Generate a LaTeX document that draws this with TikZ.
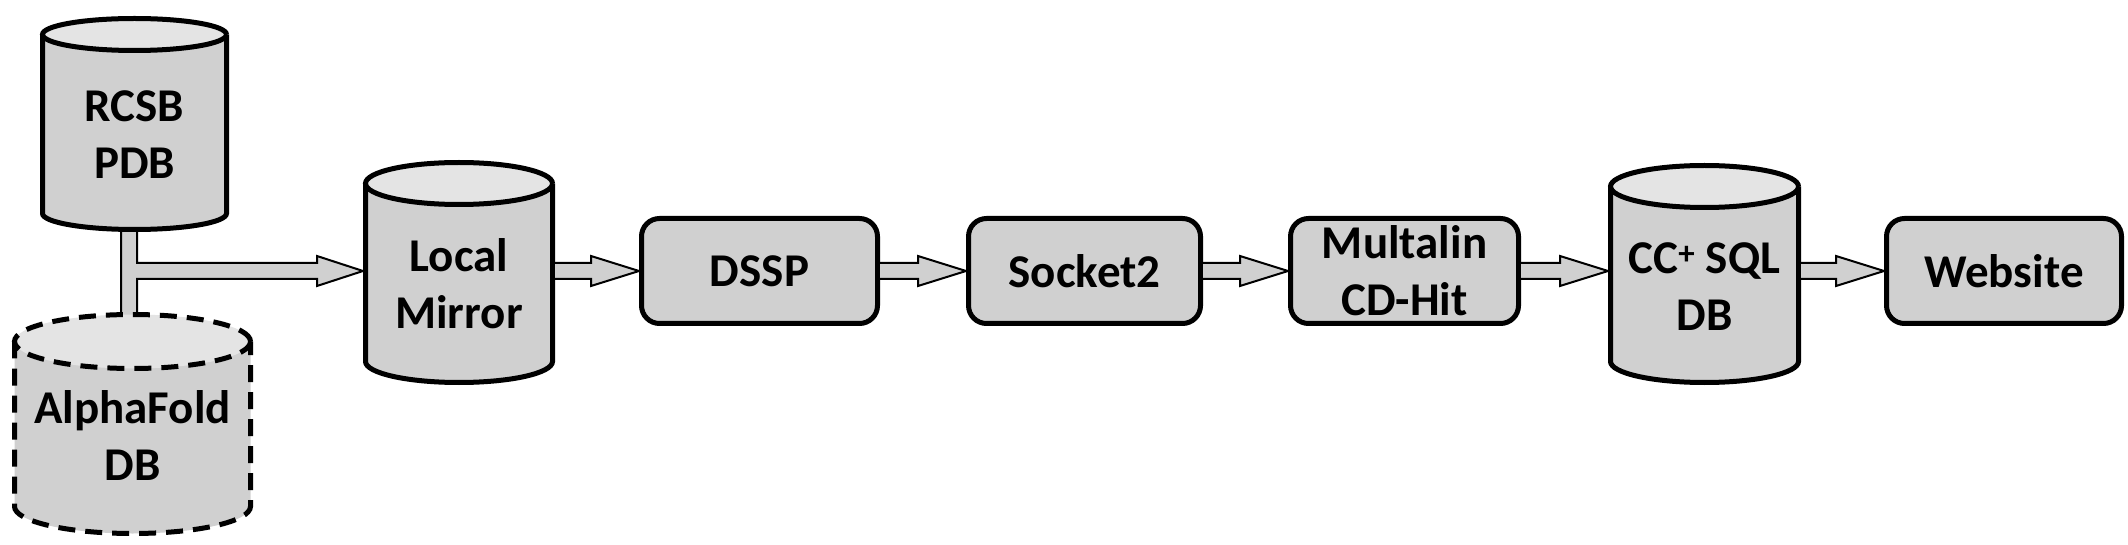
\documentclass[tikz,border=0pt]{standalone}
\usepackage{fontspec}
\setmainfont{Carlito}
\usetikzlibrary{calc}
\pgfdeclarelayer{bg}
\pgfsetlayers{bg,main}
\definecolor{bodygray}{RGB}{208,208,208}
\definecolor{topgray}{RGB}{228,228,228}
\tikzset{
  lbl/.style={font=\fontsize{47}{57}\selectfont\bfseries, align=center, inner sep=0pt, outer sep=0pt},
  procbox/.style={rectangle, rounded corners=18pt, draw=black, line width=5pt, fill=bodygray,
    minimum height=105pt, outer sep=2.5pt, font=\fontsize{47}{57}\selectfont\bfseries, align=center, inner sep=0pt},
  blk/.style={draw=black, line width=2pt, fill=bodygray, line join=miter},
  afdash/.style={dash pattern=on 17pt off 10pt},
}
% #1 name, #2 cx, #3 top centre y, #4 bottom centre y, #5 rx, #6 ry, #7 extra style, #8 text, #9 text y
\newcommand\mycyl[9]{%
  \fill[bodygray] ({#2-#5},#3) -- ({#2-#5},#4) arc[start angle=180,end angle=360,x radius=#5,y radius=#6] -- ({#2+#5},#3) -- cycle;
  \fill[topgray] (#2,#3) ellipse[x radius=#5,y radius=#6];
  \draw[line width=5pt,#7] ({#2+#5},#3) arc[start angle=0,end angle=360,x radius=#5,y radius=#6];
  \draw[line width=5pt,#7] ({#2-#5},#3) -- ({#2-#5},#4) arc[start angle=180,end angle=360,x radius=#5,y radius=#6] -- ({#2+#5},#3);
  \node[inner sep=0pt,outer sep=0pt,minimum width={2*#5+5},minimum height={#3-#4+2*#6+5}] (#1) at (#2,{(#3+#4)/2}) {};
  \node[lbl] (#1-t) at (#2,#9) {#8};
}
% block arrow from #1 to #2, at the height of node #3
\newcommand\barrow[3]{%
  \draw[blk] let \p1=(#1.east), \p2=(#2.west), \p3=(#3.center) in
    (\x1,\y3+8pt) -- (\x2-48pt,\y3+8pt) -- (\x2-48pt,\y3+15pt) -- (\x2,\y3)
    -- (\x2-48pt,\y3-15pt) -- (\x2-48pt,\y3-8pt) -- (\x1,\y3-8pt);
}
\begin{document}
\begin{tikzpicture}[x=1pt,y=1pt]
\useasboundingbox (0,0) rectangle (2128,544);
\begin{pgfonlayer}{bg}
\fill[white] (0,0) rectangle (2128,544);
\end{pgfonlayer}

\mycyl{rcsb}{134.5}{509.5}{330.5}{92}{16}{}{RCSB\\PDB}{409.5}
\mycyl{af}{132.5}{202.5}{37.5}{118}{27}{afdash}{AlphaFold\\DB}{108}
\mycyl{lm}{459}{360.5}{182.5}{93.5}{21}{}{Local\\Mirror}{260.5}
\mycyl{cc}{1704.5}{357.5}{182.5}{94}{21}{}{CC\textsuperscript{+} SQL\\DB}{257}

\node[procbox, minimum width=236pt] (dssp) at (759.5,273) {DSSP};
\node[procbox, minimum width=232pt] (sock) at (1084.5,273) {Socket2};
\node[procbox, minimum width=228pt] (mult) at (1404.5,273) {Multalin\\CD-Hit};
\node[procbox, minimum width=235pt] (web) at (2004,273) {Website};

\begin{pgfonlayer}{bg}
\draw[blk] let \p1=(rcsb.south), \p2=(af.north), \p3=(lm.west), \p4=(dssp.center) in
  (\x1-13.5pt,\y1+15pt) -- (\x1-13.5pt,\y2-15pt) -- (\x1+2.5pt,\y2-15pt) -- (\x1+2.5pt,\y4-8pt)
  -- (\x3-46pt,\y4-8pt) -- (\x3-46pt,\y4-15pt) -- (\x3,\y4) -- (\x3-46pt,\y4+15pt)
  -- (\x3-46pt,\y4+8pt) -- (\x1+2.5pt,\y4+8pt) -- (\x1+2.5pt,\y1+15pt) -- cycle;
\end{pgfonlayer}

\barrow{lm}{dssp}{dssp}
\barrow{dssp}{sock}{dssp}
\barrow{sock}{mult}{dssp}
\barrow{mult}{cc}{dssp}
\barrow{cc}{web}{dssp}
\end{tikzpicture}
\end{document}
